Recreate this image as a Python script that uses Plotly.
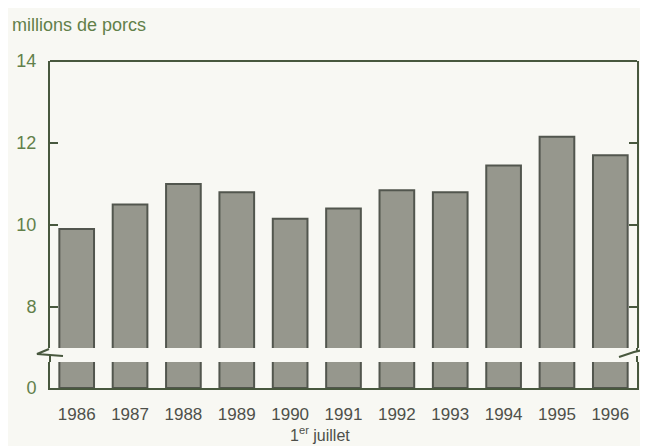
import plotly.graph_objects as go

# ---- data ----
years = ["1986", "1987", "1988", "1989", "1990", "1991", "1992", "1993", "1994", "1995", "1996"]
hogs = [9.9, 10.5, 11.0, 10.8, 10.15, 10.4, 10.85, 10.8, 11.45, 12.15, 11.7]  # millions, 1 July
upper_ticks = [8, 10, 12, 14]
lower_ticks = [0]

# ---- style / layout ----
PAGE_W, PAGE_H = 648, 446
OFF = 8  # default page body margin
W, H = PAGE_W - OFF, PAGE_H - OFF
L, R, T, B = 50, 637, 61, 388  # plot area in page pixels
pw, ph = R - L, B - T

def px(x):
    return (x - L) / pw

def py(y):
    return (B - y) / ph

frame_col = "rgb(72,88,62)"
bar_fill = "rgb(150,151,141)"
bar_edge = "rgb(82,86,78)"
green_txt = "rgb(98,128,74)"
dark_txt = "rgb(78,80,74)"
bg = "rgb(248,248,243)"
font_fam = "Liberation Sans, Arial, sans-serif"

upper_dom = [py(348), 1.0]
lower_dom = [0.0, py(362)]

fig = go.Figure()
for ax in ["y", "y2"]:
    fig.add_bar(
        x=years, y=hogs, xaxis="x", yaxis=ax,
        marker=dict(color=bar_fill, line=dict(color=bar_edge, width=2)),
        showlegend=False, hoverinfo="skip",
    )

shapes = [
    # top frame line
    dict(type="line", xref="paper", yref="paper", x0=0, x1=1, y0=1, y1=1,
         line=dict(color=frame_col, width=2)),
    # left break zigzag
    dict(type="path", xref="paper", yref="paper",
         path=f"M {px(49)} {py(349)} L {px(37)} {py(354)} L {px(63)} {py(356)}",
         line=dict(color=frame_col, width=2)),
    dict(type="line", xref="paper", yref="paper", x0=0, x1=0, y0=py(355), y1=py(362),
         line=dict(color=frame_col, width=2)),
    # right break zigzag
    dict(type="path", xref="paper", yref="paper",
         path=f"M {px(619)} {py(357)} L {px(634)} {py(352)} L {px(647)} {py(349)}",
         line=dict(color=frame_col, width=2)),
    dict(type="line", xref="paper", yref="paper", x0=1, x1=1, y0=py(348), y1=py(351),
         line=dict(color=frame_col, width=2)),
    dict(type="line", xref="paper", yref="paper", x0=1, x1=1, y0=py(356), y1=py(362),
         line=dict(color=frame_col, width=2)),
]

yaxis_common = dict(
    showgrid=False, zeroline=False, showline=True, linecolor=frame_col, linewidth=2,
    mirror="ticks", ticks="inside", ticklen=8, tickwidth=2, tickcolor=frame_col,
    tickfont=dict(family=font_fam, size=18, color=green_txt), ticklabelstandoff=8,
    anchor="x", fixedrange=True, automargin=False,
)

fig.update_layout(
    width=W, height=H,
    margin=dict(l=L - OFF, r=PAGE_W - R, t=T - OFF, b=PAGE_H - B, autoexpand=False),
    paper_bgcolor=bg, plot_bgcolor=bg,
    barmode="overlay", bargap=0.35,
    font=dict(family=font_fam),
    title=dict(text="millions de porcs", x=(12 - OFF) / W, xanchor="left", xref="container",
               y=1 - (25 - OFF) / H, yanchor="middle", yref="container",
               font=dict(family=font_fam, size=18, color=green_txt)),
    xaxis=dict(anchor="y2", domain=[0, 1], showline=True, linecolor=frame_col, linewidth=2,
               ticks="", showgrid=False, ticklabelstandoff=10, automargin=False,
               tickfont=dict(family=font_fam, size=17, color=dark_txt)),
    yaxis=dict(domain=upper_dom, range=[7, 14], tickvals=upper_ticks, **yaxis_common),
    yaxis2=dict(domain=lower_dom, range=[0, 26 / 41], tickvals=lower_ticks, **yaxis_common),
    shapes=shapes,
    annotations=[dict(text="1<sup>er</sup> juillet", xref="paper", yref="paper",
                      x=px(320), y=py(434), xanchor="center", yanchor="middle",
                      showarrow=False, font=dict(family=font_fam, size=16, color=dark_txt))],
)

fig.write_html("out.html")
